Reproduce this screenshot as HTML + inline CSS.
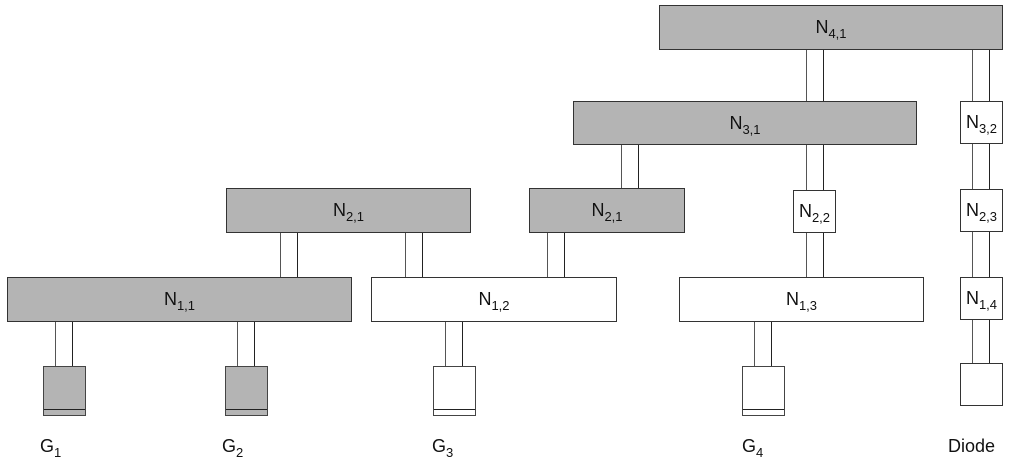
<!DOCTYPE html>
<html><head><style>
body{margin:0;background:#fff;width:1013px;height:472px;overflow:hidden;position:relative;font-family:"Liberation Sans",sans-serif;}
.b{position:absolute;box-sizing:border-box;border:1.5px solid #333;display:flex;align-items:center;justify-content:center;font-size:18px;color:#111;background:#fff}
.g{background:#b4b4b4}
sub{font-size:13px;vertical-align:-5px;line-height:0}
.c{position:absolute;box-sizing:border-box;border-left:1.5px solid #555;border-right:1.5px solid #222;width:18px}
.gt{position:absolute;box-sizing:border-box;border:1.5px solid #444;width:43px;height:50px}
.gt::after{content:"";position:absolute;left:0;right:0;bottom:5px;border-top:1.5px solid #222}
.l{position:absolute;font-size:18px;color:#111}
</style></head><body>
<div class="c" style="left:806px;top:48px;height:54px"></div>
<div class="c" style="left:972px;top:48px;height:54px"></div>
<div class="c" style="left:621px;top:143px;height:46px"></div>
<div class="c" style="left:806px;top:143px;height:48px"></div>
<div class="c" style="left:972px;top:142px;height:48px"></div>
<div class="c" style="left:280px;top:231px;height:47px"></div>
<div class="c" style="left:405px;top:231px;height:47px"></div>
<div class="c" style="left:547px;top:231px;height:47px"></div>
<div class="c" style="left:806px;top:231px;height:47px"></div>
<div class="c" style="left:972px;top:230px;height:48px"></div>
<div class="c" style="left:972px;top:318px;height:46px"></div>
<div class="c" style="left:55px;top:320px;height:47px"></div>
<div class="c" style="left:237px;top:320px;height:47px"></div>
<div class="c" style="left:445px;top:320px;height:47px"></div>
<div class="c" style="left:754px;top:320px;height:47px"></div>

<div class="b g" style="left:659px;top:5px;width:344px;height:45px"><span>N<sub>4,1</sub></span></div>
<div class="b g" style="left:573px;top:101px;width:344px;height:44px"><span>N<sub>3,1</sub></span></div>
<div class="b" style="left:960px;top:101px;width:43px;height:43px"><span>N<sub>3,2</sub></span></div>
<div class="b g" style="left:226px;top:188px;width:245px;height:45px"><span>N<sub>2,1</sub></span></div>
<div class="b g" style="left:529px;top:188px;width:156px;height:45px"><span>N<sub>2,1</sub></span></div>
<div class="b" style="left:793px;top:190px;width:43px;height:43px"><span>N<sub>2,2</sub></span></div>
<div class="b" style="left:960px;top:189px;width:43px;height:43px"><span>N<sub>2,3</sub></span></div>
<div class="b g" style="left:7px;top:277px;width:345px;height:45px"><span>N<sub>1,1</sub></span></div>
<div class="b" style="left:371px;top:277px;width:246px;height:45px"><span>N<sub>1,2</sub></span></div>
<div class="b" style="left:679px;top:277px;width:245px;height:45px"><span>N<sub>1,3</sub></span></div>
<div class="b" style="left:960px;top:277px;width:43px;height:43px"><span>N<sub>1,4</sub></span></div>

<div class="gt g" style="left:43px;top:366px"></div>
<div class="gt g" style="left:225px;top:366px"></div>
<div class="gt" style="left:433px;top:366px"></div>
<div class="gt" style="left:742px;top:366px"></div>
<div class="b" style="left:960px;top:363px;width:43px;height:43px"></div>

<div class="l" style="left:40px;top:436px">G<sub>1</sub></div>
<div class="l" style="left:222px;top:436px">G<sub>2</sub></div>
<div class="l" style="left:432px;top:436px">G<sub>3</sub></div>
<div class="l" style="left:742px;top:436px">G<sub>4</sub></div>
<div class="l" style="left:948px;top:436px">Diode</div>
</body></html>
